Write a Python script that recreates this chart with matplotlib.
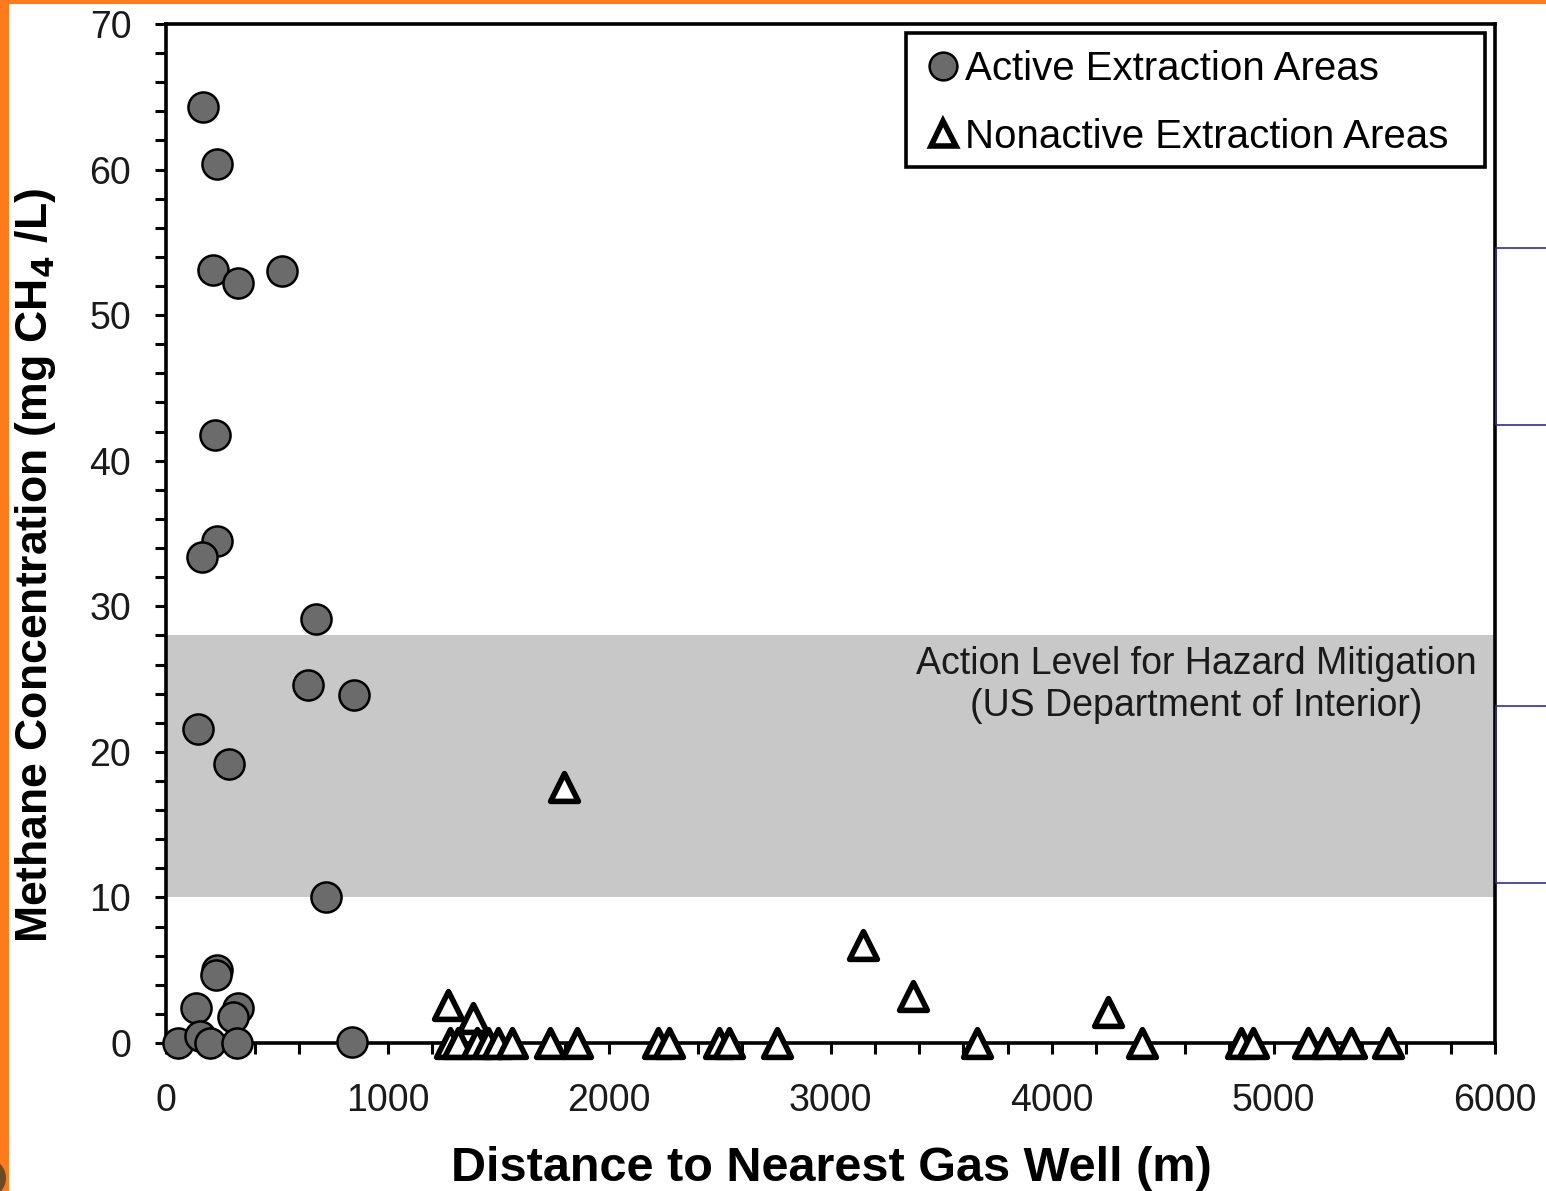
import matplotlib
matplotlib.use("Agg")
import matplotlib.pyplot as plt
from matplotlib.lines import Line2D
from matplotlib.patches import Rectangle, Circle
from matplotlib.ticker import MultipleLocator
from matplotlib.transforms import IdentityTransform

plt.rcParams["font.family"] = ["Liberation Sans", "DejaVu Sans"]

# Active extraction areas (circles)
active_dist = [167, 230, 212, 325, 524, 221, 230, 163, 677, 641, 849, 144, 284, 722,
               230, 225, 135, 325, 302, 55, 153, 199, 320, 840]
active_ch4 = [64.3, 60.4, 53.1, 52.2, 53.0, 41.8, 34.5, 33.4, 29.1, 24.6, 23.9, 21.6, 19.2, 10.0,
              5.0, 4.7, 2.4, 2.4, 1.8, 0.0, 0.5, 0.0, 0.0, 0.1]

# Nonactive extraction areas (triangles)
nonactive_dist = [1273, 1386, 1797, 3147, 3372, 4253,
                  1282, 1318, 1404, 1454, 1499, 1562, 1734, 1856, 2221, 2271, 2497, 2542,
                  2758, 3661, 4406, 4853, 4907, 5156, 5242, 5350, 5517]
nonactive_ch4 = [2.6, 1.7, 17.6, 6.7, 3.2, 2.1,
                 0, 0, 0, 0, 0, 0, 0, 0, 0, 0, 0, 0,
                 0, 0, 0, 0, 0, 0, 0, 0, 0]

band_low, band_high = 10, 28
x_ticks = [0, 1000, 2000, 3000, 4000, 5000, 6000]
y_ticks = [0, 10, 20, 30, 40, 50, 60, 70]

W, H = 1546, 1191
fig = plt.figure(figsize=(W / 100, H / 100), dpi=100)
ax = fig.add_axes([166 / W, 1 - 1043 / H, (1495 - 166) / W, (1043 - 24) / H])

ax.axhspan(band_low, band_high, color="#c8c8c8", lw=0, zorder=0)
ax.text(4650, 27.3, "Action Level for Hazard Mitigation\n(US Department of Interior)",
        ha="center", va="top", fontsize=27, color="#1a1a1a", linespacing=1.22)

ax.scatter(active_dist, active_ch4, s=470, marker="o", facecolor="#6b6b6b",
           edgecolor="black", linewidth=1.8, clip_on=False, zorder=4)
ax.scatter(nonactive_dist, nonactive_ch4, s=400, marker="^", facecolor="white",
           edgecolor="black", linewidth=4, clip_on=False, zorder=5)

ax.set_xlim(0, 6000)
ax.set_ylim(0, 70)
ax.set_xticks(x_ticks)
ax.set_yticks(y_ticks)
ax.xaxis.set_minor_locator(MultipleLocator(200))
ax.yaxis.set_minor_locator(MultipleLocator(2))
ax.tick_params(which="both", direction="out", length=8, width=2.2, color="black")
ax.tick_params(axis="both", labelsize=27, labelcolor="#1a1a1a")
ax.tick_params(axis="x", pad=21)
ax.tick_params(axis="y", pad=17)
for sp in ax.spines.values():
    sp.set_linewidth(2.6)

ax.set_xlabel("Distance to Nearest Gas Well (m)", fontsize=35, fontweight="bold")
ax.xaxis.set_label_coords(0.501, -0.101)
ax.set_ylabel("Methane Concentration (mg CH$_\\mathbf{4}$ /L)", fontsize=32, fontweight="bold")
ax.yaxis.set_label_coords(-0.081, 0.469)

# legend: entries without frame, box drawn separately
handles = [
    Line2D([], [], ls="none", marker="o", markersize=20, markerfacecolor="#6b6b6b",
           markeredgecolor="black", markeredgewidth=1.8),
    Line2D([], [], ls="none", marker="^", markersize=18, markerfacecolor="white",
           markeredgecolor="black", markeredgewidth=4),
]
ax.legend(handles, ["Active Extraction Areas", "Nonactive Extraction Areas"],
          loc="center left", bbox_to_anchor=((929 - 166) / 1329, (1043 - 103) / 1019),
          fontsize=29, frameon=False, handlelength=0.7, handletextpad=0.2,
          borderpad=0, labelspacing=0.72, borderaxespad=0)
ax.add_patch(Rectangle(((906 - 166) / 1329, (1043 - 167) / 1019),
                       (1485 - 906) / 1329, (167 - 33) / 1019, transform=ax.transAxes,
                       facecolor="white", edgecolor="black", lw=2.6, zorder=6))
ax.get_legend().set_zorder(7)

# orange frame around the screenshot
fig.add_artist(Rectangle((0, 1 - 4 / H), 1, 4 / H, transform=fig.transFigure,
                         color="#ff7a1a", lw=0))
fig.add_artist(Rectangle((0, 0), 9 / W, 1, transform=fig.transFigure,
                         color="#ff7a1a", lw=0))
fig.add_artist(Circle((-14, H - 1178), 20, transform=IdentityTransform(),
                      color="#6b4a2a", lw=0))

# blue brackets at the right edge
for top, bottom in [(248, 425), (706, 883)]:
    xs = [1, 1496 / W, 1496 / W, 1]
    ys = [1 - top / H, 1 - top / H, 1 - bottom / H, 1 - bottom / H]
    fig.add_artist(Line2D(xs, ys, transform=fig.transFigure, color="#2e2e9e", lw=1.2))

fig.savefig("out.png", dpi=100)
